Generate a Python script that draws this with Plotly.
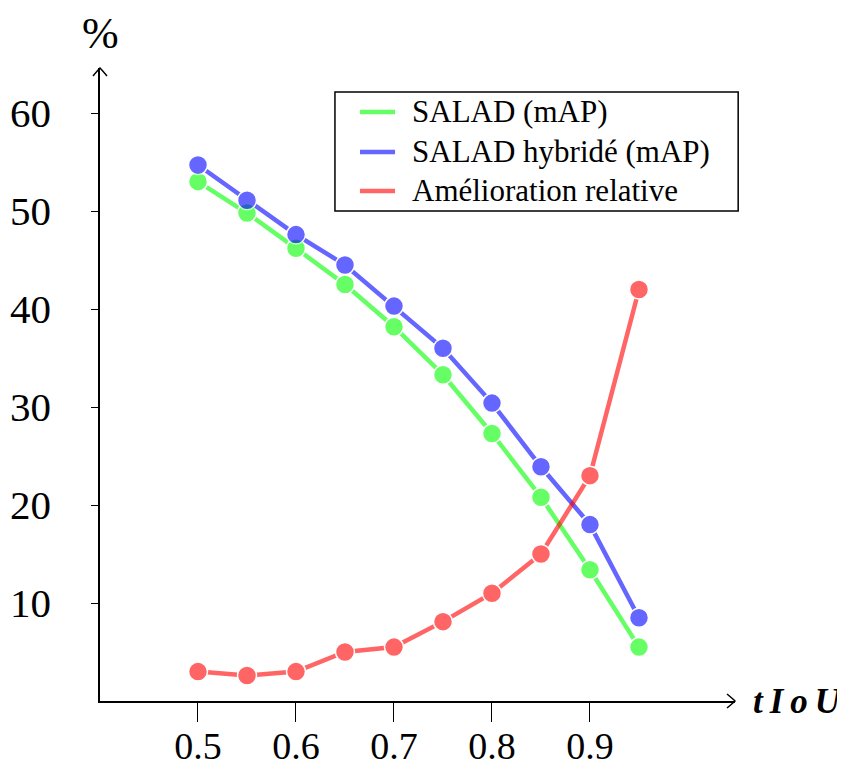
import plotly.graph_objects as go

# tIoU thresholds
tiou = [0.5, 0.55, 0.6, 0.65, 0.7, 0.75, 0.8, 0.85, 0.9, 0.95]

# mAP values (%)
salad = [53.0, 49.8, 46.2, 42.5, 38.2, 33.3, 27.3, 20.8, 13.4, 5.5]
salad_hybride = [54.7, 51.1, 47.6, 44.5, 40.3, 36.0, 30.4, 23.9, 18.0, 8.5]
# relative improvement (%)
amelioration = [3.0, 2.6, 3.0, 5.0, 5.5, 8.1, 11.0, 15.0, 23.0, 42.0]

series_names = ["SALAD (mAP)", "SALAD hybridé (mAP)", "Amélioration relative"]
series_colors = ["rgb(0,255,0)", "rgb(0,0,255)", "rgb(255,0,0)"]
x_ticks = [0.5, 0.6, 0.7, 0.8, 0.9]
y_ticks = [10, 20, 30, 40, 50, 60]

FONT = "Liberation Serif"

fig = go.Figure()

for name, vals, col in zip(series_names, [salad, salad_hybride, amelioration], series_colors):
    fig.add_trace(go.Scatter(
        x=tiou, y=vals, mode="lines+markers", name=name, showlegend=False,
        opacity=0.6,
        line=dict(color=col, width=4.5),
        marker=dict(size=19, color=col, line=dict(color="white", width=1.5)),
    ))

# legend drawn by hand (boxed, line samples only)
fig.add_shape(type="rect", xref="paper", yref="paper", x0=0.370, x1=1.005, y0=0.774, y1=0.962,
              line=dict(color="black", width=1.5), fillcolor="white", layer="above")
rows_y = [0.9305, 0.8673, 0.8057]
for name, col, ry in zip(series_names, series_colors, rows_y):
    fig.add_shape(type="line", xref="paper", yref="paper", x0=0.4094, x1=0.4646, y0=ry, y1=ry,
                  line=dict(color=col, width=4.5), opacity=0.6, layer="above")
    fig.add_annotation(text=name, xref="paper", yref="paper", x=0.4882, y=ry, showarrow=False,
                       xanchor="left", yanchor="middle",
                       font=dict(family=FONT, size=31, color="black"))

# arrow heads at the end of the axes
fig.add_shape(type="path", xref="paper", yref="paper", xsizemode="pixel", ysizemode="pixel",
              xanchor=1, yanchor=0, path="M -8,7 Q -2,2 0,0 Q -2,-2 -8,-7",
              line=dict(color="black", width=1.5))
fig.add_shape(type="path", xref="paper", yref="paper", xsizemode="pixel", ysizemode="pixel",
              xanchor=0, yanchor=1, path="M -7,-8 Q -2,-2 0,0 Q 2,-2 7,-8",
              line=dict(color="black", width=1.5))

fig.add_annotation(text="%", xref="paper", yref="paper", x=0, y=1.055, showarrow=False,
                   font=dict(family=FONT, size=44, color="black"), xanchor="center", yanchor="middle")
fig.add_annotation(text="<b><i>t\u2009I\u2009o\u2009U</i></b>", xref="paper", yref="paper", x=1.025, y=0.0,
                   showarrow=False, font=dict(family=FONT, size=35, color="black"),
                   xanchor="left", yanchor="middle")

fig.update_layout(
    width=837, height=758,
    margin=dict(l=92, r=110, t=60, b=65),
    plot_bgcolor="white", paper_bgcolor="white",
    font=dict(family=FONT, color="black"),
    showlegend=False,
    xaxis=dict(
        range=[0.4, 1.048], tickvals=x_ticks, ticktext=[str(v) for v in x_ticks],
        showgrid=False, zeroline=False, showline=True, linecolor="black", linewidth=1.5,
        ticks="outside", ticklen=19, tickcolor="black", tickwidth=1.2,
        tickfont=dict(family=FONT, size=38, color="black"),
        ticklabelstandoff=-8, automargin=False,
    ),
    yaxis=dict(
        range=[0, 64.6], tickvals=y_ticks,
        showgrid=False, zeroline=False, showline=True, linecolor="black", linewidth=1.5,
        ticks="outside", ticklen=7, tickcolor="black", tickwidth=1.2,
        tickfont=dict(family=FONT, size=41, color="black"),
        ticklabelstandoff=32, automargin=False,
    ),
)

fig.write_html("out.html")
